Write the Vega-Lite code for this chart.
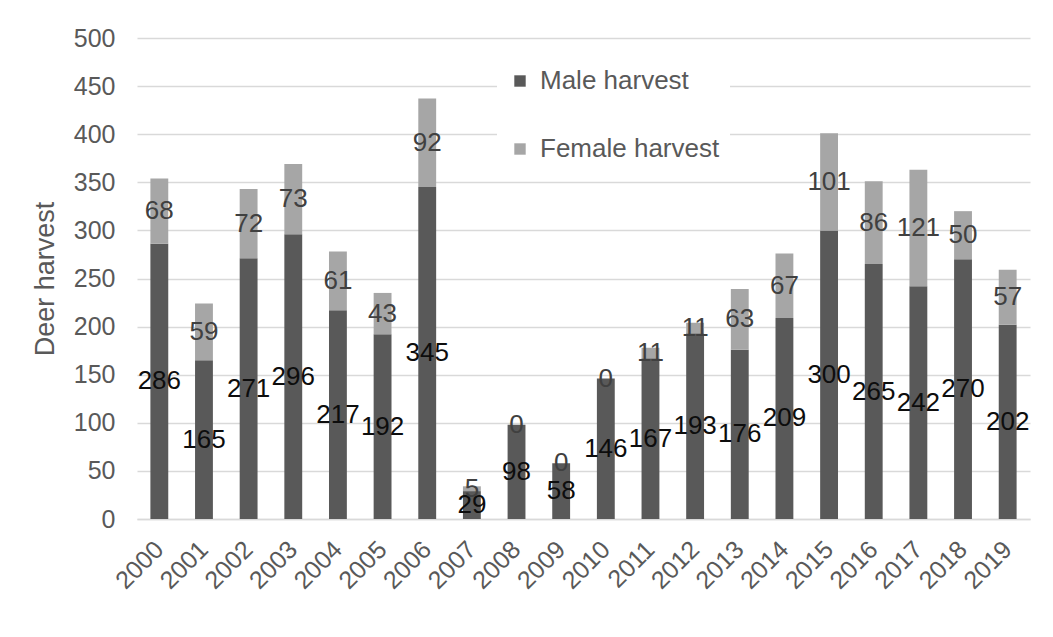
{
  "$schema": "https://vega.github.io/schema/vega-lite/v6.json",
  "width": 893,
  "height": 481,
  "autosize": "none",
  "padding": {"left": 137, "top": 38, "right": 23, "bottom": 118},
  "background": "white",
  "config": {
    "view": {"stroke": null},
    "font": "Liberation Sans",
    "axisY": {
      "title": "Deer harvest",
      "titleFontSize": 27,
      "titleFontWeight": "normal",
      "titleColor": "#595959",
      "titlePadding": 14,
      "labelFontSize": 25,
      "labelColor": "#595959",
      "labelPadding": 22,
      "ticks": false,
      "domain": false,
      "gridColor": "#d9d9d9",
      "gridWidth": 1.5
    }
  },
  "data": {
    "values": [
      {"year": "2000", "sex": "Male harvest", "value": 286}, {"year": "2000", "sex": "Female harvest", "value": 68},
      {"year": "2001", "sex": "Male harvest", "value": 165}, {"year": "2001", "sex": "Female harvest", "value": 59},
      {"year": "2002", "sex": "Male harvest", "value": 271}, {"year": "2002", "sex": "Female harvest", "value": 72},
      {"year": "2003", "sex": "Male harvest", "value": 296}, {"year": "2003", "sex": "Female harvest", "value": 73},
      {"year": "2004", "sex": "Male harvest", "value": 217}, {"year": "2004", "sex": "Female harvest", "value": 61},
      {"year": "2005", "sex": "Male harvest", "value": 192}, {"year": "2005", "sex": "Female harvest", "value": 43},
      {"year": "2006", "sex": "Male harvest", "value": 345}, {"year": "2006", "sex": "Female harvest", "value": 92},
      {"year": "2007", "sex": "Male harvest", "value": 29}, {"year": "2007", "sex": "Female harvest", "value": 5},
      {"year": "2008", "sex": "Male harvest", "value": 98}, {"year": "2008", "sex": "Female harvest", "value": 0},
      {"year": "2009", "sex": "Male harvest", "value": 58}, {"year": "2009", "sex": "Female harvest", "value": 0},
      {"year": "2010", "sex": "Male harvest", "value": 146}, {"year": "2010", "sex": "Female harvest", "value": 0},
      {"year": "2011", "sex": "Male harvest", "value": 167}, {"year": "2011", "sex": "Female harvest", "value": 11},
      {"year": "2012", "sex": "Male harvest", "value": 193}, {"year": "2012", "sex": "Female harvest", "value": 11},
      {"year": "2013", "sex": "Male harvest", "value": 176}, {"year": "2013", "sex": "Female harvest", "value": 63},
      {"year": "2014", "sex": "Male harvest", "value": 209}, {"year": "2014", "sex": "Female harvest", "value": 67},
      {"year": "2015", "sex": "Male harvest", "value": 300}, {"year": "2015", "sex": "Female harvest", "value": 101},
      {"year": "2016", "sex": "Male harvest", "value": 265}, {"year": "2016", "sex": "Female harvest", "value": 86},
      {"year": "2017", "sex": "Male harvest", "value": 242}, {"year": "2017", "sex": "Female harvest", "value": 121},
      {"year": "2018", "sex": "Male harvest", "value": 270}, {"year": "2018", "sex": "Female harvest", "value": 50},
      {"year": "2019", "sex": "Male harvest", "value": 202}, {"year": "2019", "sex": "Female harvest", "value": 57}
    ]
  },
  "encoding": {
    "x": {
      "field": "year",
      "type": "ordinal",
      "scale": {"paddingInner": 0.6, "paddingOuter": 0.3},
      "axis": {
        "title": null,
        "labelAngle": -45,
        "labelAlign": "right",
        "labelBaseline": "middle",
        "labelFontSize": 25,
        "labelColor": "#595959",
        "labelPadding": 26,
        "ticks": false,
        "domainColor": "#d9d9d9",
        "domainWidth": 1.5
      }
    }
  },
  "layer": [
    {
      "mark": {"type": "bar"},
      "encoding": {
        "y": {
          "field": "value",
          "type": "quantitative",
          "stack": "zero",
          "scale": {"domain": [0, 500]},
          "axis": {"title": "Deer harvest", "values": [0, 50, 100, 150, 200, 250, 300, 350, 400, 450, 500]}
        },
        "color": {
          "field": "sex",
          "type": "nominal",
          "scale": {"domain": ["Male harvest", "Female harvest"], "range": ["#595959", "#a6a6a6"]},
          "legend": {
            "title": null,
            "orient": "none",
            "legendX": 360,
            "legendY": 20,
            "fillColor": "white",
            "padding": 10,
            "symbolType": "square",
            "symbolSize": 130,
            "symbolStrokeWidth": 0,
            "labelFontSize": 26,
            "labelColor": "#595959",
            "labelOffset": 7,
            "labelLimit": 400,
            "rowPadding": 42
          }
        },
        "order": {"field": "sex", "sort": "descending"}
      }
    },
    {
      "transform": [
        {"stack": "value", "groupby": ["year"], "sort": [{"field": "sex", "order": "descending"}], "as": ["y0", "y1"]},
        {"filter": "datum.sex === 'Male harvest'"},
        {"fold": ["y0", "y1"], "as": ["k", "pos"]}
      ],
      "mark": {"type": "text", "fontSize": 26, "color": "#0d0d0d", "baseline": "middle"},
      "encoding": {
        "y": {"aggregate": "mean", "field": "pos", "type": "quantitative", "axis": {"title": "Deer harvest", "values": [0, 50, 100, 150, 200, 250, 300, 350, 400, 450, 500]}},
        "text": {"aggregate": "max", "field": "value", "type": "quantitative"}
      }
    },
    {
      "transform": [
        {"stack": "value", "groupby": ["year"], "sort": [{"field": "sex", "order": "descending"}], "as": ["y0", "y1"]},
        {"filter": "datum.sex === 'Female harvest'"},
        {"fold": ["y0", "y1"], "as": ["k", "pos"]}
      ],
      "mark": {"type": "text", "fontSize": 26, "color": "#404040", "baseline": "middle"},
      "encoding": {
        "y": {"aggregate": "mean", "field": "pos", "type": "quantitative", "axis": {"title": "Deer harvest", "values": [0, 50, 100, 150, 200, 250, 300, 350, 400, 450, 500]}},
        "text": {"aggregate": "max", "field": "value", "type": "quantitative"}
      }
    }
  ]
}
